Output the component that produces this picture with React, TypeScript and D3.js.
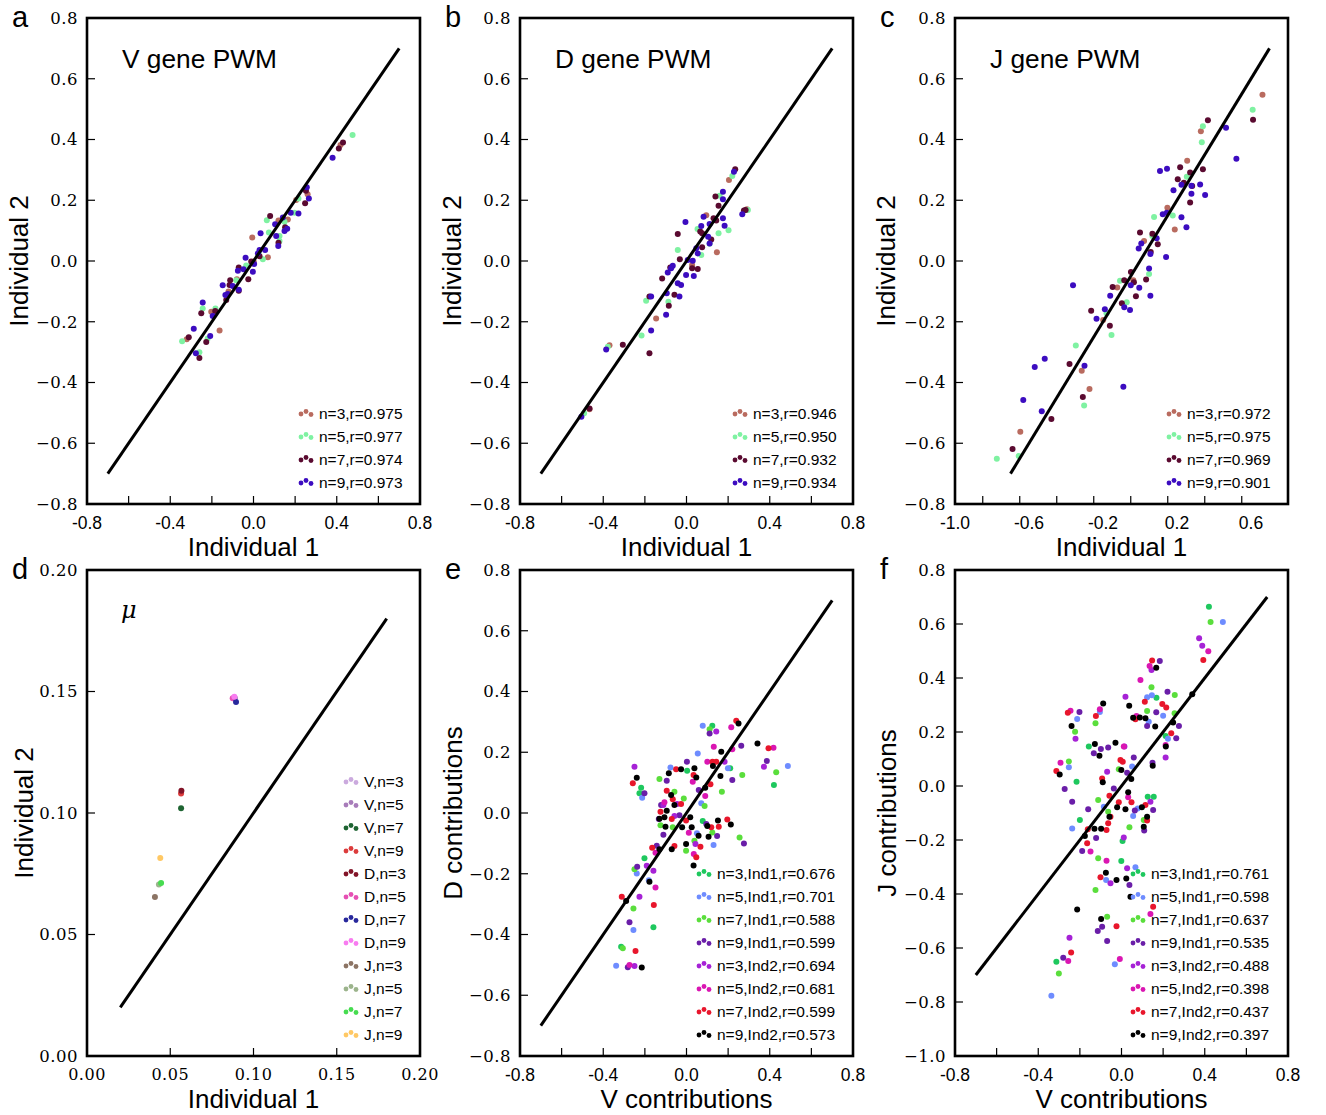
import React from 'react';
import * as d3 from 'd3';

type P = [number, number];

// ---------- Panel a: V gene PWM ----------
const aN3: P[] = [[0.205,0.201],[0.12,0.133],[0.165,0.137],[-0.006,0.077],[0.069,0.012],[-0.08,-0.06],[-0.203,-0.167],[-0.163,-0.229],[-0.321,-0.258],[0.418,0.382],[0.001,-0.002],[0.26,0.22],[-0.12,-0.1]];
const aN5: P[] = [[0.216,0.206],[0.064,0.134],[0.074,0.094],[0.125,0.082],[0.125,0.066],[0.025,0.027],[0.045,0.006],[-0.035,-0.015],[-0.083,-0.063],[-0.183,-0.156],[-0.244,-0.156],[-0.343,-0.264],[-0.26,-0.3],[-0.22,-0.255],[0.149,0.129],[0.476,0.415],[0.197,0.159]];
const aN7: P[] = [[0.252,0.231],[0.248,0.19],[0.08,0.148],[0.152,0.111],[0.12,0.06],[-0.011,-0.002],[0.029,0.016],[-0.071,-0.021],[-0.112,-0.063],[-0.115,-0.079],[-0.025,-0.06],[-0.071,-0.098],[-0.131,-0.128],[-0.184,-0.165],[-0.251,-0.172],[-0.311,-0.251],[-0.227,-0.267],[-0.26,-0.319],[0.43,0.39],[0.41,0.37]];
const aN9: P[] = [[0.256,0.243],[0.266,0.206],[0.179,0.159],[0.216,0.156],[0.141,0.143],[0.104,0.121],[0.162,0.106],[0.149,0.099],[0.034,0.091],[0.109,0.082],[0.119,0.049],[0.029,0.036],[0.056,0.036],[0.021,0.025],[0.003,-0.01],[-0.038,0.011],[-0.075,-0.032],[-0.048,-0.027],[-0.003,-0.035],[-0.148,-0.08],[-0.1,-0.082],[-0.071,-0.095],[-0.124,-0.109],[-0.135,-0.112],[-0.244,-0.137],[-0.196,-0.181],[-0.287,-0.223],[-0.208,-0.247],[-0.277,-0.304],[0.38,0.34]];

// ---------- Panel b: D gene PWM ----------
const bN3: P[] = [[0.204,0.267],[0.095,0.151],[0.146,0.029],[-0.146,-0.189],[-0.37,-0.277],[-0.466,-0.488],[0.29,0.17],[0.027,-0.013]];
const bN5: P[] = [[0.22,0.28],[0.159,0.215],[0.053,0.105],[0.202,0.101],[0.154,0.091],[-0.042,0.036],[0.071,0.02],[-0.194,-0.131],[-0.087,-0.134],[-0.216,-0.245],[-0.378,-0.282],[-0.492,-0.501],[0.295,0.168],[0.111,0.057]];
const bN7: P[] = [[0.234,0.302],[0.139,0.212],[0.154,0.182],[0.13,0.141],[0.143,0.133],[0.276,0.166],[0.284,0.168],[-0.042,0.089],[0.066,0.097],[0.075,0.091],[0.119,0.071],[0.075,0.045],[-0.032,0.006],[0.027,-0.024],[0.054,-0.026],[-0.078,-0.021],[-0.117,-0.058],[-0.178,-0.117],[-0.058,-0.111],[-0.085,-0.147],[-0.306,-0.276],[-0.178,-0.304],[-0.466,-0.486]];
const bN9: P[] = [[0.228,0.294],[0.175,0.228],[0.175,0.203],[-0.005,0.128],[0.082,0.146],[0.071,0.115],[0.111,0.122],[0.175,0.141],[0.183,0.116],[0.268,0.154],[0.104,0.08],[0.111,0.058],[0.047,0.042],[0.054,0.025],[0.006,0.003],[0.03,0.001],[-0.066,-0.016],[-0.074,-0.024],[-0.09,-0.038],[-0.002,-0.046],[0.035,-0.049],[-0.042,-0.073],[-0.026,-0.079],[-0.095,-0.106],[-0.17,-0.117],[-0.034,-0.117],[-0.098,-0.177],[-0.17,-0.229],[-0.386,-0.291],[-0.505,-0.513]];

// ---------- Panel c: J gene PWM ----------
const cN3: P[] = [[0.329,0.427],[0.255,0.33],[0.148,0.175],[0.188,0.104],[0.022,0.066],[-0.123,-0.087],[-0.036,-0.063],[-0.199,-0.194],[-0.315,-0.361],[-0.273,-0.421],[-0.647,-0.562],[0.662,0.547]];
const cN5: P[] = [[0.609,0.498],[0.34,0.444],[0.334,0.391],[0.253,0.277],[0.076,0.145],[0.177,0.15],[-0.108,-0.065],[0.049,-0.043],[-0.072,-0.136],[-0.181,-0.172],[-0.154,-0.244],[-0.347,-0.278],[-0.302,-0.476],[-0.774,-0.651],[-0.656,-0.642],[0.067,0.082]];
const cN7: P[] = [[0.611,0.465],[0.367,0.463],[0.217,0.309],[0.271,0.291],[0.34,0.302],[0.204,0.269],[0.237,0.258],[0.282,0.247],[0.271,0.193],[0,0.094],[0.067,0.09],[0.096,0.055],[0.058,0.03],[-0.049,-0.036],[-0.085,-0.063],[-0.033,-0.07],[0.033,-0.061],[-0.148,-0.086],[-0.022,-0.116],[-0.098,-0.139],[-0.264,-0.164],[-0.163,-0.213],[-0.381,-0.339],[-0.309,-0.448],[-0.479,-0.52],[-0.689,-0.619]];
const cN9: P[] = [[0.465,0.439],[0.521,0.337],[0.108,0.296],[0.146,0.304],[0.181,0.233],[0.224,0.251],[0.278,0.248],[0.325,0.252],[0.278,0.221],[0.352,0.217],[0.123,0.154],[0.145,0.159],[0.224,0.144],[0.251,0.111],[0.09,0.075],[0.007,0.058],[-0.007,0.041],[0.056,0.023],[0.141,0.013],[0.049,-0.025],[-0.05,-0.08],[-0.004,-0.088],[0.056,-0.114],[-0.161,-0.114],[-0.19,-0.159],[-0.085,-0.152],[-0.054,-0.161],[-0.235,-0.19],[-0.362,-0.08],[-0.569,-0.349],[-0.515,-0.322],[-0.3,-0.345],[-0.09,-0.414],[-0.631,-0.458],[-0.531,-0.495]];

// ---------- Panel d: mu ----------
const dLabels = ['V,n=3','V,n=5','V,n=7','V,n=9','D,n=3','D,n=5','D,n=7','D,n=9','J,n=3','J,n=5','J,n=7','J,n=9'];
const dPoints: P[] = [[0.0885,0.1475],[0.0888,0.1472],[0.0565,0.102],[0.0565,0.108],[0.0567,0.1092],[0.0875,0.1472],[0.0895,0.1457],[0.0885,0.1478],[0.0408,0.0654],[0.0432,0.0706],[0.0445,0.0712],[0.044,0.0815]];

// ---------- Panel e: D vs V contributions ----------
const eN3I1: P[] = [[0.124,0.287],[-0.218,0.083],[0.003,0.139],[0.078,-0.026],[-0.202,-0.149],[-0.159,-0.376],[-0.314,-0.44],[0.42,0.092],[0.21,0.147],[-0.226,0.065]];
const eN5I1: P[] = [[0.078,0.287],[0.487,0.155],[0.054,0.196],[-0.077,0.15],[0.199,0.147],[-0.213,0.05],[0.071,0.032],[0.05,-0.067],[0.13,-0.105],[-0.239,-0.199],[-0.181,-0.221],[-0.255,-0.385],[-0.338,-0.503]];
const eN7I1: P[] = [[0.111,0.276],[-0.13,0.112],[-0.058,0.07],[-0.013,0.048],[0.268,0.125],[0.431,0.134],[0.17,0.07],[0.087,0.023],[-0.125,-0.04],[-0.066,-0.047],[0.124,-0.064],[0.255,-0.081],[0.038,-0.091],[-0.002,-0.124],[-0.25,-0.185],[-0.255,-0.314],[-0.306,-0.445]];
const eN9I1: P[] = [[0.111,0.262],[0.263,0.221],[0.386,0.171],[0.22,0.109],[0.002,0.169],[-0.095,0.106],[0.059,0.076],[-0.202,0.065],[-0.122,0.026],[-0.133,-0.02],[-0.034,-0.007],[0.095,-0.036],[-0.111,-0.072],[0.147,-0.076],[0.276,-0.1],[-0.143,-0.108],[-0.237,-0.177],[-0.274,-0.36],[-0.282,-0.508]];
const eN3I2: P[] = [[0.143,0.268],[0.372,0.152],[-0.25,0.152],[-0.045,0.03],[-0.058,-0.01],[-0.159,-0.19],[-0.226,-0.276],[0.043,-0.102],[-0.111,0.026],[0.183,0.169],[-0.25,-0.504],[-0.191,-0.174]];
const eN5I2: P[] = [[0.215,0.282],[0.418,0.215],[0.131,0.218],[0.22,0.21],[0.1,0.169],[0.03,0.103],[0.09,0.056],[-0.106,0.035],[0.011,-0.065],[0.035,-0.135],[-0.149,-0.131],[-0.149,-0.245],[-0.274,-0.5]];
const eN7I2: P[] = [[0.239,0.304],[0.394,0.213],[0.125,0.169],[0.143,0.169],[-0.05,0.144],[0.034,0.125],[-0.258,0.098],[0.115,0.095],[-0.095,0.073],[-0.066,0.045],[-0.026,0.03],[-0.125,0.004],[-0.071,-0.02],[-0.002,-0.025],[0.119,-0.047],[0.155,-0.045],[0.196,-0.021],[-0.058,-0.109],[-0.165,-0.114],[0.067,-0.111],[0.047,-0.146],[-0.311,-0.276],[-0.157,-0.303],[-0.245,-0.454]];
const eN9I2: P[] = [[0.25,0.295],[0.341,0.229],[0.167,0.202],[0.127,0.155],[0.038,0.147],[-0.026,0.144],[0.047,0.117],[-0.085,0.131],[0.163,0.122],[-0.074,0.059],[-0.095,0.007],[-0.106,-0.014],[-0.13,-0.019],[-0.058,0.026],[0.018,-0.014],[-0.101,-0.045],[-0.021,-0.047],[0.025,-0.047],[0.151,-0.025],[0.1,-0.043],[0.213,-0.038],[0.058,-0.075],[0.106,-0.078],[-0.002,-0.102],[-0.071,-0.119],[-0.13,-0.119],[0.09,0.083],[-0.239,0.116],[0.034,-0.173],[-0.178,-0.226],[-0.29,-0.29],[-0.215,-0.509]];

// ---------- Panel f: J vs V contributions ----------
const fN3I1: P[] = [[0.42,0.664],[0.168,0.327],[-0.157,0.146],[-0.216,0.016],[-0.2,-0.126],[0.126,-0.04],[0.155,-0.04],[0.005,-0.204],[-0.001,-0.278],[-0.313,-0.651],[0.212,0.185]];
const fN5I1: P[] = [[0.487,0.607],[0.146,0.336],[0.123,0.329],[-0.104,0.274],[-0.213,0.248],[0.2,0.26],[0.131,0.238],[0.223,0.175],[-0.253,0.069],[0.051,0.072],[-0.085,-0.077],[0.078,-0.083],[0.056,-0.111],[-0.237,-0.157],[-0.074,-0.348],[0.067,-0.301],[-0.032,-0.66],[-0.337,-0.777]];
const fN7I1: P[] = [[0.428,0.607],[0.144,0.366],[0.123,0.278],[0.256,0.337],[0.255,0.269],[-0.125,0.232],[-0.223,0.201],[-0.253,0.091],[-0.013,0.062],[-0.112,-0.052],[-0.064,-0.095],[0.038,-0.153],[0.107,-0.126],[-0.112,-0.268],[-0.125,-0.385],[-0.069,-0.484],[-0.301,-0.694]];
const fN9I1: P[] = [[0.184,0.463],[0.167,0.273],[0.221,0.349],[-0.202,0.274],[0.123,0.222],[0.276,0.222],[0.263,0.177],[-0.099,0.137],[-0.064,0.143],[-0.133,0.121],[0.059,0.106],[0.149,0.086],[-0.273,-0.011],[-0.237,-0.058],[-0.16,-0.086],[-0.037,-0.009],[0.064,-0.091],[0.152,-0.089],[0.109,-0.165],[-0.122,-0.193],[-0.189,-0.241],[0.038,-0.367],[-0.093,-0.521],[-0.114,-0.537],[-0.069,-0.574],[-0.28,-0.636],[0.027,0.049]];
const fN3I2: P[] = [[0.373,0.547],[0.388,0.519],[0.019,0.331],[0.144,0.43],[-0.221,0.175],[-0.069,0.053],[0.014,0.146],[0.139,-0.058],[0.212,0.106],[-0.053,-0.36],[-0.25,-0.562],[0.011,-0.191],[0.027,-0.305]];
const fN5I2: P[] = [[0.417,0.499],[0.135,0.444],[0.091,0.393],[-0.245,0.279],[-0.104,0.284],[-0.293,0.086],[0.011,0.146],[0.212,0.152],[0.032,-0.042],[-0.149,-0.243],[-0.072,-0.277],[0.139,-0.474],[-0.008,-0.641],[-0.256,-0.648],[0.072,0.259]];
const fN7I2: P[] = [[0.393,0.467],[0.147,0.465],[0.112,0.312],[0.196,0.304],[0.215,0.291],[-0.258,0.271],[-0.123,0.259],[0.067,0.247],[-0.313,0.056],[-0.005,0.096],[0.006,0.09],[-0.093,0.028],[-0.058,-0.036],[-0.013,-0.06],[0.048,-0.06],[0.115,-0.07],[-0.053,-0.114],[-0.064,-0.138],[-0.072,-0.163],[-0.162,-0.16],[-0.165,-0.212],[0.123,-0.128],[0.239,0.195],[-0.101,-0.338],[0.152,-0.447],[-0.024,-0.519],[-0.242,-0.617]];
const fN9I2: P[] = [[0.167,0.438],[0.34,0.34],[-0.088,0.306],[0.037,0.297],[-0.24,0.222],[0.056,0.253],[0.088,0.254],[0.115,0.251],[0.162,0.22],[0.248,0.235],[-0.128,0.156],[-0.029,0.16],[-0.106,0.112],[-0.297,0.043],[-0.001,0.059],[0.047,0.026],[-0.09,0.014],[0.032,-0.023],[0.15,0.075],[0.213,0.146],[-0.021,-0.079],[0.019,-0.086],[0.098,-0.079],[-0.058,-0.114],[0.123,-0.114],[0.107,-0.151],[-0.13,-0.158],[-0.098,-0.158],[-0.176,-0.185],[-0.075,-0.321],[-0.024,-0.348],[0.023,-0.343],[0.043,-0.41],[-0.213,-0.457],[-0.098,-0.493]];

// ---------- legends / colors ----------
const abcLabelsA = ['n=3,r=0.975','n=5,r=0.977','n=7,r=0.974','n=9,r=0.973'];
const abcLabelsB = ['n=3,r=0.946','n=5,r=0.950','n=7,r=0.932','n=9,r=0.934'];
const abcLabelsC = ['n=3,r=0.972','n=5,r=0.975','n=7,r=0.969','n=9,r=0.901'];
const eLabels = ['n=3,Ind1,r=0.676','n=5,Ind1,r=0.701','n=7,Ind1,r=0.588','n=9,Ind1,r=0.599','n=3,Ind2,r=0.694','n=5,Ind2,r=0.681','n=7,Ind2,r=0.599','n=9,Ind2,r=0.573'];
const fLabels = ['n=3,Ind1,r=0.761','n=5,Ind1,r=0.598','n=7,Ind1,r=0.637','n=9,Ind1,r=0.535','n=3,Ind2,r=0.488','n=5,Ind2,r=0.398','n=7,Ind2,r=0.437','n=9,Ind2,r=0.397'];
const abcColors = ['#b96b5f','#7ff2a2','#5a0a30','#3c0cc0'];
const efColors = ['#1ec85e','#6e8cff','#5ade3c','#6a1ea8','#a622d6','#da16b2','#e8162c','#000000'];
const dColors = ['#cbaade','#a87cba','#1e6432','#dc3c3c','#821428','#e650b4','#28289c','#f87cf0','#8c7464','#9cb48c','#46dc50','#ffc864'];

// ticks
const tickPM08 = [-0.8,-0.6,-0.4,-0.2,0,0.2,0.4,0.6,0.8];
const xLabPM08 = [-0.8,-0.4,0,0.4,0.8];
const cXMarks = [-0.85,-0.65,-0.45,-0.25,-0.05,0.15,0.35,0.55];
const cXLabels = [-1.0,-0.6,-0.2,0.2,0.6];
const dTicks = [0,0.05,0.1,0.15,0.2];
const fYTicks = [-1.0,-0.8,-0.6,-0.4,-0.2,0,0.2,0.4,0.6,0.8];

const FW = 333, FH = 486;
const SANS = '"Liberation Sans", Arial, Helvetica, sans-serif';
const SERIF = '"DejaVu Serif", serif';

const minus = (s: string) => s.replace('-', '\u2212');

interface PanelProps {
  left: number; top: number;
  xd: [number, number]; yd: [number, number];
  xMarks: number[]; xLabels: number[]; xFmt: (v: number) => string; xSerif?: boolean;
  yMarks: number[]; yFmt: (v: number) => string;
  series: P[][]; colors: string[];
  diag: [number, number];
  legend: string[]; legX: number; legY: number;
  letter: string; title?: string; mu?: boolean;
  xTitle: string; yTitle: string; yTitleX: number;
}

function Panel(p: PanelProps) {
  const x = d3.scaleLinear().domain(p.xd).range([p.left, p.left + FW]);
  const y = d3.scaleLinear().domain(p.yd).range([p.top + FH, p.top]);
  const bottom = p.top + FH;
  return (
    <g>
      {p.series.map((s, i) => (
        <g key={i} fill={p.colors[i]}>
          {s.map((d, j) => <circle key={j} cx={x(d[0])} cy={y(d[1])} r={3} />)}
        </g>
      ))}
      <line x1={x(p.diag[0])} y1={y(p.diag[0])} x2={x(p.diag[1])} y2={y(p.diag[1])} stroke="#000" strokeWidth={3} />
      <rect x={p.left} y={p.top} width={FW} height={FH} fill="none" stroke="#000" strokeWidth={2.6} />
      {p.xMarks.map((v, i) => (
        <line key={i} x1={x(v)} x2={x(v)} y1={bottom} y2={bottom - 8} stroke="#000" strokeWidth={1.2} />
      ))}
      {p.yMarks.map((v, i) => (
        <line key={i} x1={p.left} x2={p.left + 8} y1={y(v)} y2={y(v)} stroke="#000" strokeWidth={1.2} />
      ))}
      {p.xLabels.map((v, i) => (
        p.xSerif ? (
          <text key={i} x={x(v)} y={bottom + 23.5} textAnchor="middle" fontFamily={SERIF} fontSize={16} letterSpacing={0.5}>{p.xFmt(v)}</text>
        ) : (
          <text key={i} x={x(v)} y={bottom + 24.5} textAnchor="middle" fontFamily={SANS} fontSize={17.5}>{p.xFmt(v)}</text>
        )
      ))}
      {p.yMarks.map((v, i) => (
        <text key={i} x={p.left - 9} y={y(v)} dy="0.36em" textAnchor="end" fontFamily={SERIF} fontSize={16.5} letterSpacing={0.5}>{minus(p.yFmt(v))}</text>
      ))}
      <text x={p.left + FW / 2} y={bottom + 51.5} textAnchor="middle" fontFamily={SANS} fontSize={26}>{p.xTitle}</text>
      <text transform={`translate(${p.yTitleX},${p.top + FH / 2}) rotate(-90)`} textAnchor="middle" fontFamily={SANS} fontSize={26}>{p.yTitle}</text>
      <text x={p.left - 75} y={p.top + 9} fontFamily={SANS} fontSize={29}>{p.letter}</text>
      {p.title && <text x={p.left + 35} y={p.top + 50} fontFamily={SANS} fontSize={26.3}>{p.title}</text>}
      {p.mu && <text x={p.left + 34} y={p.top + 48} fontFamily={SERIF} fontStyle="italic" fontSize={24}>μ</text>}
      {p.legend.map((t, i) => {
        const ly = p.legY + i * 23;
        return (
          <g key={i}>
            <g fill={p.colors[i]}>
              <circle cx={p.legX - 11} cy={ly + 1} r={2.4} />
              <circle cx={p.legX - 6} cy={ly - 1.5} r={2.4} />
              <circle cx={p.legX - 1} cy={ly + 1.5} r={2.4} />
            </g>
            <text x={p.legX + 7} y={ly} dy="0.36em" fontFamily={SANS} fontSize={15.5}>{t}</text>
          </g>
        );
      })}
    </g>
  );
}

const f1 = (v: number) => v.toFixed(1);
const f2 = (v: number) => v.toFixed(2);

export default function App() {
  const top1 = 18, top2 = 570;
  return (
    <svg width={1326} height={1115} style={{ display: 'block', position: 'absolute', left: 0, top: 0, background: '#fff' }}>
      <rect width={1326} height={1115} fill="#fff" />
      <Panel left={87} top={top1} xd={[-0.8, 0.8]} yd={[-0.8, 0.8]} xMarks={tickPM08} xLabels={xLabPM08} xFmt={f1}
        yMarks={tickPM08} yFmt={f1} series={[aN3, aN5, aN7, aN9]} colors={abcColors} diag={[-0.7, 0.7]}
        legend={abcLabelsA} legX={312} legY={413} letter="a" title="V gene PWM" xTitle="Individual 1" yTitle="Individual 2" yTitleX={28} />
      <Panel left={520} top={top1} xd={[-0.8, 0.8]} yd={[-0.8, 0.8]} xMarks={tickPM08} xLabels={xLabPM08} xFmt={f1}
        yMarks={tickPM08} yFmt={f1} series={[bN3, bN5, bN7, bN9]} colors={abcColors} diag={[-0.7, 0.7]}
        legend={abcLabelsB} legX={746} legY={413} letter="b" title="D gene PWM" xTitle="Individual 1" yTitle="Individual 2" yTitleX={461} />
      <Panel left={955} top={top1} xd={[-1.0, 0.8]} yd={[-0.8, 0.8]} xMarks={cXMarks} xLabels={cXLabels} xFmt={f1}
        yMarks={tickPM08} yFmt={f1} series={[cN3, cN5, cN7, cN9]} colors={abcColors} diag={[-0.7, 0.7]}
        legend={abcLabelsC} legX={1180} legY={413} letter="c" title="J gene PWM" xTitle="Individual 1" yTitle="Individual 2" yTitleX={895} />
      <Panel left={87} top={top2} xd={[0, 0.2]} yd={[0, 0.2]} xMarks={dTicks} xLabels={dTicks} xFmt={f2} xSerif
        yMarks={dTicks} yFmt={f2} series={dPoints.map(d => [d])} colors={dColors} diag={[0.02, 0.18]}
        legend={dLabels} legX={357} legY={781} letter="d" mu xTitle="Individual 1" yTitle="Individual 2" yTitleX={33} />
      <Panel left={520} top={top2} xd={[-0.8, 0.8]} yd={[-0.8, 0.8]} xMarks={tickPM08} xLabels={xLabPM08} xFmt={f1}
        yMarks={tickPM08} yFmt={f1} series={[eN3I1, eN5I1, eN7I1, eN9I1, eN3I2, eN5I2, eN7I2, eN9I2]} colors={efColors} diag={[-0.7, 0.7]}
        legend={eLabels} legX={710} legY={873} letter="e" xTitle="V contributions" yTitle="D contributions" yTitleX={462} />
      <Panel left={955} top={top2} xd={[-0.8, 0.8]} yd={[-1.0, 0.8]} xMarks={tickPM08} xLabels={xLabPM08} xFmt={f1}
        yMarks={fYTicks} yFmt={f1} series={[fN3I1, fN5I1, fN7I1, fN9I1, fN3I2, fN5I2, fN7I2, fN9I2]} colors={efColors} diag={[-0.7, 0.7]}
        legend={fLabels} legX={1144} legY={873} letter="f" xTitle="V contributions" yTitle="J contributions" yTitleX={896} />
    </svg>
  );
}
